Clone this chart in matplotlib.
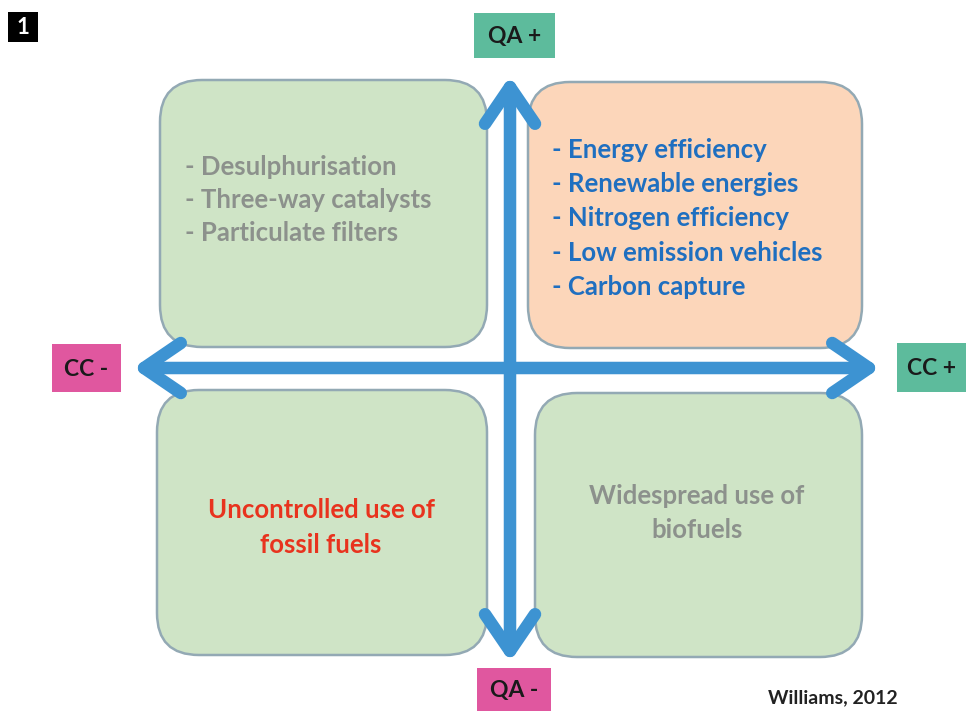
import matplotlib.pyplot as plt
from matplotlib.patches import FancyBboxPatch, FancyArrowPatch, Rectangle

# quadrant contents
tl_items = ["- Desulphurisation", "- Three-way catalysts", "- Particulate filters"]
tr_items = ["- Energy efficiency", "- Renewable energies", "- Nitrogen efficiency",
            "- Low emission vehicles", "- Carbon capture"]
bl_items = ["Uncontrolled use of", "fossil fuels"]
br_items = ["Widespread use of", "biofuels"]

# axis end labels
axis_labels = ["QA +", "QA -", "CC -", "CC +"]
source = "Williams, 2012"
panel = "1"

green = "#cfe4c6"
peach = "#fcd6ba"
edge = "#93a9b4"
teal = "#5dbb9c"
pink = "#e0579f"
arrow_col = "#3d93d2"

fig = plt.figure(figsize=(9.66, 7.11), dpi=100)
ax = fig.add_axes([0, 0, 1, 1])
ax.set_xlim(0, 966)
ax.set_ylim(711, 0)
ax.axis("off")

font = "Lato"

def box(x0, y0, x1, y1, fc):
    p = FancyBboxPatch((x0, y0), x1 - x0, y1 - y0,
                       boxstyle="round,pad=0,rounding_size=42",
                       fc=fc, ec=edge, lw=1.8, zorder=1)
    ax.add_patch(p)

box(160, 80, 487, 347, green)
box(528, 82, 862, 348, peach)
box(157, 390, 487, 655, green)
box(535, 393, 862, 657, green)

# arrows
for (a, b) in [((510, 662), (510, 76)), ((880, 368), (133, 368))]:
    arr = FancyArrowPatch(a, b, arrowstyle="<->,head_length=2.2,head_width=1.5",
                          mutation_scale=12, lw=9, color=arrow_col,
                          shrinkA=0, shrinkB=0,
                          capstyle="round", joinstyle="round", zorder=3)
    ax.add_patch(arr)

# label boxes
def label(x0, y0, x1, y1, fc, txt):
    ax.add_patch(Rectangle((x0, y0), x1 - x0, y1 - y0, fc=fc, ec="none", zorder=4))
    ax.text((x0 + x1) / 2, (y0 + y1) / 2 + 1, txt, ha="center", va="center",
            fontsize=16.5, fontweight="bold", family=font, color="#1a1a1a", zorder=5)

label(474, 13, 555, 58, teal, axis_labels[0])
label(477, 668, 551, 711, pink, axis_labels[1])
label(52, 344, 121, 392, pink, axis_labels[2])
label(897, 343, 966, 392, teal, axis_labels[3])

# panel number
ax.add_patch(Rectangle((8, 12), 30, 30, fc="black", ec="none", zorder=4))
ax.text(23, 27.5, panel, ha="center", va="center", color="white",
        fontsize=16, fontweight="bold", family=font, zorder=5)

# quadrant texts
fs = 18.5
for i, t in enumerate(tl_items):
    ax.text(185, 167 + i * 33, t, ha="left", va="center", fontsize=fs,
            fontweight="bold", family=font, color="#8c918c", zorder=5)
for i, t in enumerate(tr_items):
    ax.text(552, 150 + i * 34.2, t, ha="left", va="center", fontsize=fs,
            fontweight="bold", family=font, color="#1f6fc0", zorder=5)
for i, t in enumerate(bl_items):
    ax.text(321, 510 + i * 35, t, ha="center", va="center", fontsize=fs,
            fontweight="bold", family=font, color="#e8331e", zorder=5)
for i, t in enumerate(br_items):
    ax.text(697, 496 + i * 34, t, ha="center", va="center", fontsize=fs,
            fontweight="bold", family=font, color="#8c918c", zorder=5)

ax.text(833, 698, source, ha="center", va="center", fontsize=14,
        fontweight="bold", family=font, color="#222222", zorder=5)

fig.savefig("out.png", dpi=100)
